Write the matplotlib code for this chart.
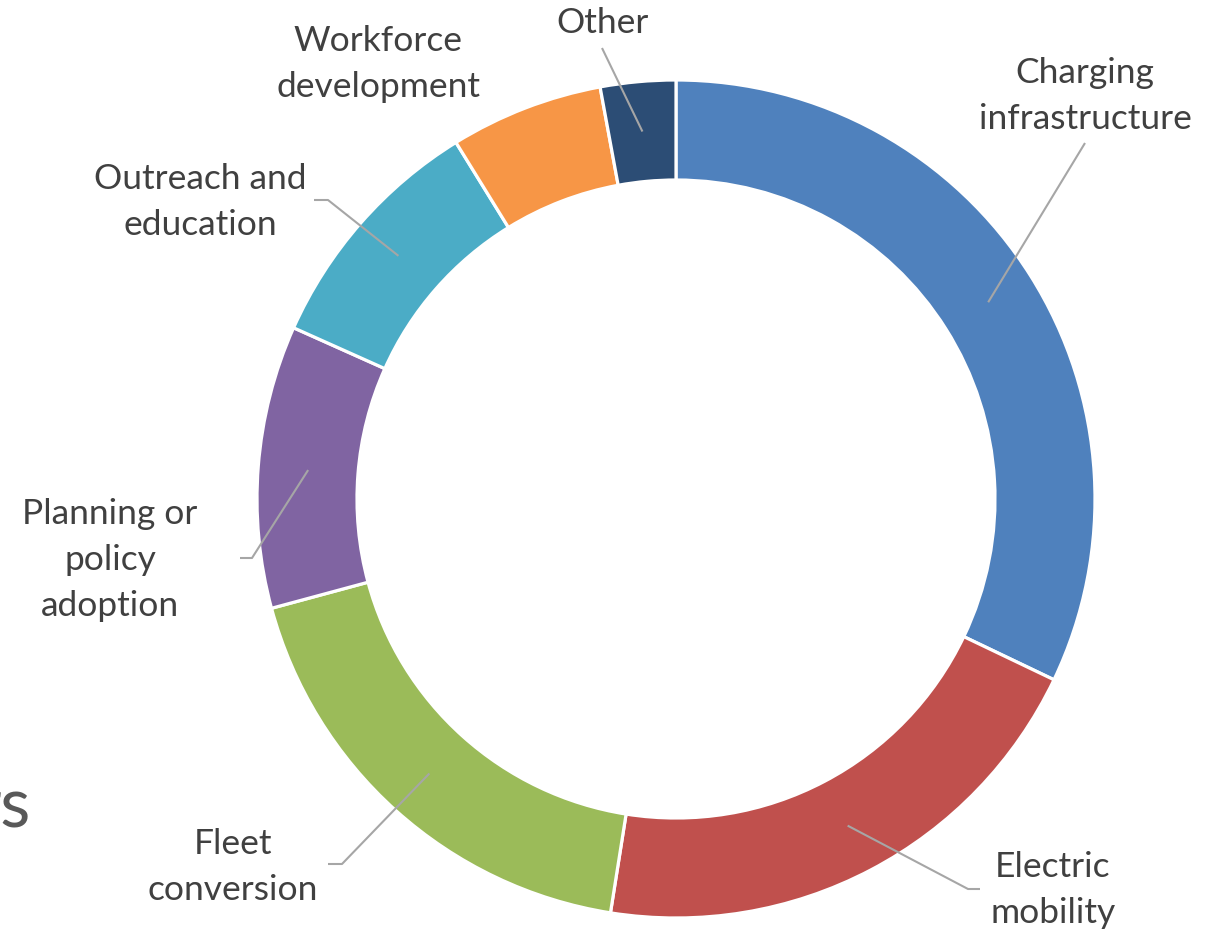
import numpy as np
import matplotlib
matplotlib.use("Agg")
import matplotlib.pyplot as plt

categories = ["Charging\ninfrastructure", "Electric\nmobility", "Fleet\nconversion",
              "Planning or\npolicy\nadoption", "Outreach and\neducation",
              "Workforce\ndevelopment", "Other"]
values = [32.1, 20.4, 18.3, 10.9, 9.5, 5.9, 2.9]
colors = ["#4F81BD", "#C0504D", "#9BBB59", "#8064A2", "#4BACC6", "#F79646", "#2C4D75"]

# layout (pixel coordinates, y downward)
W, H = 1214, 932
center = (676, 499)
r_out, ring_w = 419, 100
label_pos = [(1085, 96), (1053, 890), (233, 867), (110, 560), (200, 202), (378, 64), (603, 23)]
# leader: list of points from the label side (None = no leader)
leader_pts = [
    [(1085, 143)],
    [(980, 889), (968, 889)],
    [(328, 864), (342, 864)],
    [(240, 558), (252, 558)],
    [(314, 200), (328, 200)],
    None,
    [(602, 48)],
]

fig = plt.figure(figsize=(W / 100, H / 100), dpi=100)
ax = fig.add_axes([0, 0, 1, 1])
wedges, _ = ax.pie(values, colors=colors, startangle=-90, counterclock=True,
                   center=center, radius=r_out,
                   wedgeprops=dict(width=ring_w, edgecolor="white", linewidth=2.3))
ax.set_xlim(0, W)
ax.set_ylim(H, 0)
ax.set_aspect("equal")
ax.axis("off")

font = dict(family=["Lato", "DejaVu Sans"], fontsize=25.5, color="#404040")
r_mid = r_out - ring_w / 2
for w, lab, pos, pts in zip(wedges, categories, label_pos, leader_pts):
    ax.text(pos[0], pos[1], lab, ha="center", va="center", multialignment="center",
            linespacing=1.55, **font)
    if pts is not None:
        th = np.deg2rad((w.theta1 + w.theta2) / 2)
        anchor = (center[0] + r_mid * np.cos(th), center[1] + r_mid * np.sin(th))
        xs = [p[0] for p in pts] + [anchor[0]]
        ys = [p[1] for p in pts] + [anchor[1]]
        ax.plot(xs, ys, color="#A6A6A6", lw=1.5, solid_capstyle="butt", zorder=5)

ax.text(30, 828, "rs", ha="right", va="baseline", family=["Lato", "DejaVu Sans"],
        fontsize=50, color="#595959")

fig.savefig("out.png", dpi=100, facecolor="white")
